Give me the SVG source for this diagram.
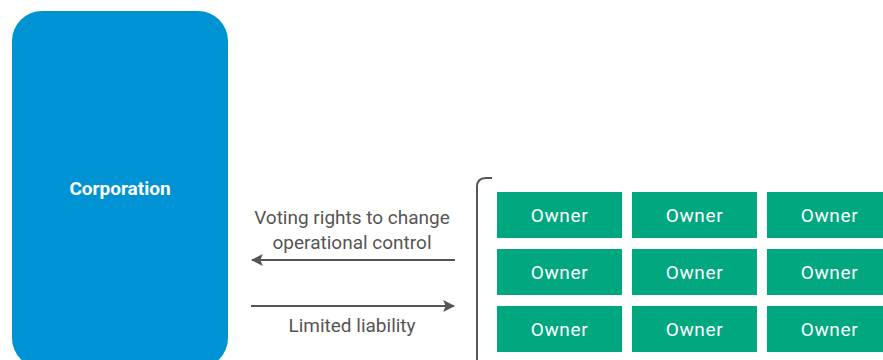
<svg xmlns="http://www.w3.org/2000/svg" width="883" height="360" viewBox="0 0 883 360">
<style>
.owner rect{fill:#00A77F}
.owner text{fill:#fff;font-family:Roboto,"Liberation Sans",sans-serif;font-size:19px;letter-spacing:0.6px;text-anchor:middle}
.lbl{fill:#555;font-family:Roboto,"Liberation Sans",sans-serif;font-size:19px;text-anchor:middle}
.conn{stroke:#555;stroke-width:2;fill:none}
</style>
<defs>
<marker id="ah" viewBox="0 0 10 10" refX="9" refY="5" markerWidth="6" markerHeight="6" orient="auto-start-reverse" markerUnits="strokeWidth">
<path d="M0,0 L10,5 L0,10 L2,5 Z" fill="#555"/>
</marker>
</defs>
<rect width="883" height="360" fill="#fff"/>
<g id="corporation">
<rect x="12" y="11" width="216" height="357" rx="30" fill="#0093D3"/>
<text x="120" y="195" fill="#fff" font-family="Roboto,'Liberation Sans',sans-serif" font-size="19" font-weight="bold" text-anchor="middle">Corporation</text>
</g>
<g id="owners-bracket">
<path class="conn" d="M477,400 V187 Q477,178 486,178 H492"/>
</g>
<g id="owner-1-1" class="owner"><rect x="497" y="192" width="125" height="46"/><text x="559.5" y="222">Owner</text></g>
<g id="owner-1-2" class="owner"><rect x="632" y="192" width="125" height="46"/><text x="694.5" y="222">Owner</text></g>
<g id="owner-1-3" class="owner"><rect x="767" y="192" width="125" height="46"/><text x="829.5" y="222">Owner</text></g>
<g id="owner-2-1" class="owner"><rect x="497" y="249" width="125" height="46"/><text x="559.5" y="279">Owner</text></g>
<g id="owner-2-2" class="owner"><rect x="632" y="249" width="125" height="46"/><text x="694.5" y="279">Owner</text></g>
<g id="owner-2-3" class="owner"><rect x="767" y="249" width="125" height="46"/><text x="829.5" y="279">Owner</text></g>
<g id="owner-3-1" class="owner"><rect x="497" y="306" width="125" height="46"/><text x="559.5" y="336">Owner</text></g>
<g id="owner-3-2" class="owner"><rect x="632" y="306" width="125" height="46"/><text x="694.5" y="336">Owner</text></g>
<g id="owner-3-3" class="owner"><rect x="767" y="306" width="125" height="46"/><text x="829.5" y="336">Owner</text></g>
<g id="connectors">
<line class="conn" x1="455" y1="260" x2="252" y2="260" marker-end="url(#ah)"/>
<text class="lbl" x="352" y="224">Voting rights to change</text>
<text class="lbl" x="352" y="249">operational control</text>
<line class="conn" x1="251" y1="306" x2="454" y2="306" marker-end="url(#ah)"/>
<text class="lbl" x="352" y="332">Limited liability</text>
</g>
</svg>
